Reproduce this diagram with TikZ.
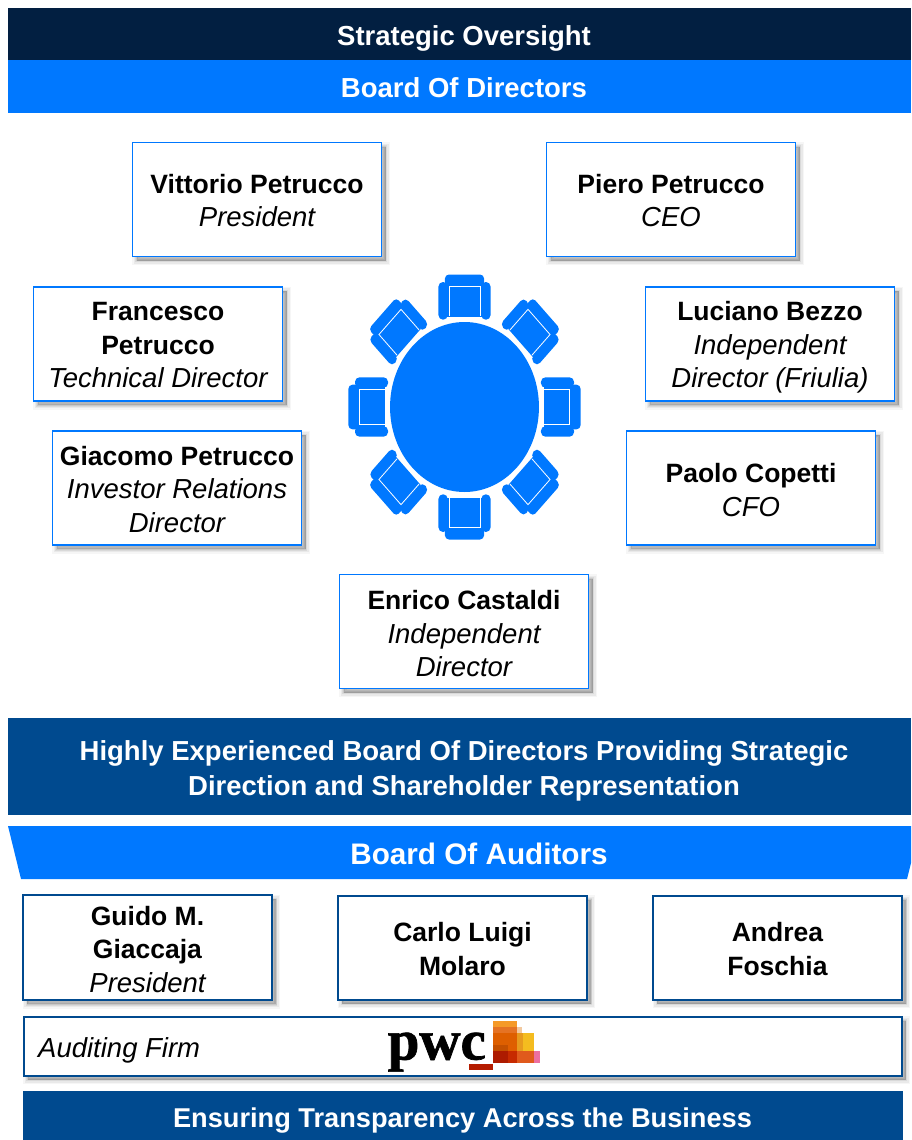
\documentclass[tikz,border=0pt]{standalone}
\usepackage{fontspec}
\setmainfont{Liberation Sans}
\newfontfamily\pwcfont[FakeBold=1.2]{Liberation Serif Bold}
\definecolor{navy}{HTML}{021F41}
\definecolor{brightblue}{HTML}{0078FF}
\definecolor{deepblue}{HTML}{004A8F}
\definecolor{pwcA}{HTML}{B51C00}
\definecolor{pwcB}{HTML}{F59A28}
\definecolor{pwcC}{HTML}{E57324}
\definecolor{pwcD}{HTML}{F2C9A0}
\definecolor{pwcE}{HTML}{DE5F00}
\definecolor{pwcF}{HTML}{F4BC1F}
\definecolor{pwcG}{HTML}{E79A1E}
\definecolor{pwcH}{HTML}{C45000}
\definecolor{pwcI}{HTML}{E05E00}
\definecolor{pwcJ}{HTML}{AD1B00}
\definecolor{pwcK}{HTML}{C72A00}
\definecolor{pwcL}{HTML}{E05A1C}
\definecolor{pwcM}{HTML}{EC6FA0}
\newcommand\firstline[1]{\rule{0pt}{#1pt}}
\newcommand\lastline{\rule[-8pt]{0pt}{8pt}}
\newcommand\role[1]{{\fontsize{27.5}{33.5}\selectfont\itshape #1}}
\tikzset{
  softshadow/.style={
    preaction={draw=black,fill=black,opacity=.035,line width=9pt,transform canvas={shift={(4pt,-4pt)}}},
    preaction={draw=black,fill=black,opacity=.05,line width=6pt,transform canvas={shift={(4pt,-4pt)}}},
    preaction={draw=black,fill=black,opacity=.07,line width=3pt,transform canvas={shift={(4pt,-4pt)}}},
    preaction={draw=black,fill=black,opacity=.08,line width=.5pt,transform canvas={shift={(4pt,-4pt)}}}},
  bar/.style={rectangle,inner sep=0pt,outer sep=0pt,text=white,font=\fontsize{27.5}{35}\selectfont\bfseries,align=center},
  bodytext/.style={font=\fontsize{26.5}{33.5}\selectfont,align=center,text=black},
  namebox/.style={rectangle,draw=brightblue,line width=1.5pt,fill=white,inner sep=0pt,minimum width=249pt,minimum height=114pt,softshadow,bodytext},
  auditbox/.style={rectangle,draw=deepblue,line width=2pt,fill=white,inner sep=0pt,minimum width=248.5pt,minimum height=104pt,softshadow,bodytext},
  iconfill/.style={fill=brightblue,draw=none},
}
\begin{document}
\begin{tikzpicture}[x=1pt,y=-1pt]
\useasboundingbox (0,0) rectangle (911,1140);
\node[bar,fill=navy,minimum width=903pt,minimum height=52pt] (oversightbar) at (459.5,34) {};
\node[bar] (oversighttext) at (464,38) {Strategic Oversight};
\node[bar,fill=brightblue,minimum width=903pt,minimum height=53pt] (directorsbar) at (459.5,86.5) {};
\node[bar] (directorstext) at (464,88) {Board Of Directors};

\node[namebox] (vittorio) at (257,199.5) {\firstline{29}\textbf{Vittorio Petrucco}\\\role{President}\lastline};
\node[namebox] (piero) at (671,199.5) {\firstline{29}\textbf{Piero Petrucco}\\\role{CEO}\lastline};
\node[namebox] (francesco) at (158,344) {\firstline{28}\textbf{Francesco}\\\textbf{Petrucco}\\\role{Technical Director}\lastline};
\node[namebox] (luciano) at (770,344) {\firstline{28}\textbf{Luciano Bezzo}\\\role{Independent}\\\role{Director (Friulia)}\lastline};
\node[namebox] (giacomo) at (177,488) {\firstline{29}\textbf{Giacomo Petrucco}\\\role{Investor Relations}\\\role{Director}\lastline};
\node[namebox] (paolo) at (751,488) {\firstline{31}\textbf{Paolo Copetti}\\\role{CFO}\lastline};
\node[namebox] (enrico) at (464,631.5) {\firstline{31}\textbf{Enrico Castaldi}\\\role{Independent}\\\role{Director}\lastline};

% conference table icon
\begin{scope}[shift={(464.5,407)},xscale=.876]
  \fill[brightblue] (0,0) circle (85);
  \foreach \a in {0,45,...,315}{
    \begin{scope}[rotate=\a]
      \fill[iconfill,rounded corners=4pt] (-22.3,-132.5) rectangle (22.3,-118);
      \fill[iconfill,rounded corners=4.5pt] (-29.7,-125) rectangle (-19.2,-87.3);
      \fill[iconfill,rounded corners=4.5pt] (19.2,-125) rectangle (29.7,-87.3);
      \fill[iconfill] (-19.6,-122) rectangle (19.6,-90.5);
      \draw[white,line width=.8pt] (-17.8,-91) -- (-17.8,-120.3) -- (17.8,-120.3) -- (17.8,-91);
    \end{scope}
  }
\end{scope}

\node[bar,fill=deepblue,minimum width=903pt,minimum height=97pt] (summarybar) at (459.5,766.5) {};
\node[bar] (summarytext) at (464,771) {Highly Experienced Board Of Directors Providing Strategic\\Direction and Shareholder Representation};

\fill[brightblue] (8,826) -- (911,826) -- (911,863) -- (907,879) -- (21,879) -- cycle;
\node[bar,font=\fontsize{29.7}{35}\selectfont\bfseries] (auditorstext) at (479,854) {Board Of Auditors};

\node[auditbox] (guido) at (147.5,947.5) {\firstline{30}\textbf{Guido M.}\\\textbf{Giaccaja}\\\role{President}\lastline};
\node[auditbox] (carlo) at (462.5,947.5) {\firstline{30}\textbf{Carlo Luigi}\\\textbf{Molaro}\lastline};
\node[auditbox] (andrea) at (777.5,947.5) {\firstline{30}\textbf{Andrea}\\\textbf{Foschia}\lastline};

\node[auditbox,minimum width=878pt,minimum height=59pt] (firmbox) at (462.5,1046) {};
\node[bodytext,anchor=west,inner sep=0pt] (firmlabel) at (38,1050) {\role{Auditing Firm}};

% PwC logo
\node[anchor=base west,inner sep=0pt,font=\pwcfont\fontsize{57}{57}\selectfont,text=black] (pwclogo) at (387.5,1059.5) {pwc};
\fill[pwcA] (469,1064) rectangle (493.3,1070);
\fill[pwcB] (493.3,1021) rectangle (517.3,1027);
\fill[pwcC] (493.3,1027) rectangle (517.3,1033.3);
\fill[pwcD] (517.3,1027) rectangle (522,1033.3);
\fill[pwcE] (493.3,1033.3) rectangle (517.3,1045);
\fill[pwcF] (523,1033.3) rectangle (534,1051);
\fill[pwcG] (517.3,1033.3) rectangle (523,1051);
\fill[pwcH] (493.3,1045) rectangle (508.3,1051);
\fill[pwcI] (508.3,1045) rectangle (517.3,1051);
\fill[pwcJ] (493.3,1051) rectangle (508.3,1063.3);
\fill[pwcK] (508.3,1051) rectangle (517.3,1063.3);
\fill[pwcL] (517.3,1051) rectangle (534,1063.3);
\fill[pwcM] (534,1051) rectangle (540,1063.3);

\node[bar,fill=deepblue,minimum width=880pt,minimum height=49pt] (closingbar) at (463,1115.5) {};
\node[bar,font=\fontsize{27.2}{35}\selectfont\bfseries] (closingtext) at (462.5,1121) {Ensuring Transparency Across the Business};
\end{tikzpicture}
\end{document}
